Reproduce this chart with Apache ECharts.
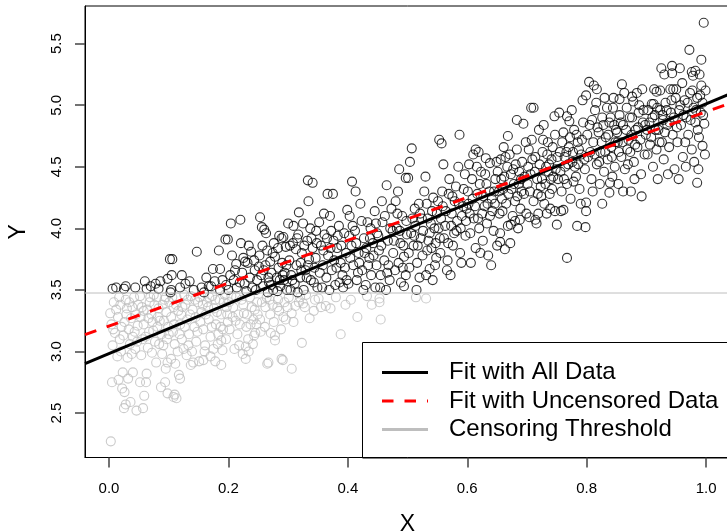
<!DOCTYPE html>
<html>
<head>
<meta charset="utf-8">
<script src="https://cdn.jsdelivr.net/npm/echarts@6/dist/echarts.min.js"></script>
<style>
  html, body { margin: 0; padding: 0; background: #fff; overflow: hidden; }
  #chart { width: 730px; height: 532px; }
</style>
</head>
<body>
<div id="chart"></div>
<script>
const points = [
  // x 0.00 - 0.05
  [0.006,3.51],[0.012,3.52],[0.025,3.51],[0.028,3.53],[0.044,3.52],
  [0.003,2.27],[0.005,2.75],[0.016,2.77],[0.023,2.83],[0.032,2.78],[0.040,2.83],[0.022,2.70],[0.026,2.67],
  [0.025,2.54],[0.028,2.57],[0.036,2.59],[0.046,2.52],
  [0.008,3.40],[0.012,3.34],[0.015,3.28],[0.004,3.22],[0.010,3.15],[0.018,3.10],[0.006,3.05],[0.020,3.00],
  [0.014,2.96],[0.028,3.42],[0.030,3.35],[0.026,3.24],[0.033,3.18],[0.035,3.06],[0.038,2.98],[0.042,3.44],
  [0.045,3.30],[0.048,3.21],[0.040,3.12],[0.044,3.02],[0.002,3.31],[0.019,3.38],[0.024,3.13],[0.037,3.27],
  [0.049,3.38],[0.031,2.95],[0.047,3.08],
  // x 0.05 - 0.10
  [0.060,3.57],[0.063,3.51],[0.078,3.55],[0.086,3.57],[0.083,3.51],[0.098,3.59],[0.070,3.53],
  [0.057,2.54],[0.059,2.64],[0.052,2.75],[0.062,2.75],[0.063,2.82],[0.079,2.91],[0.087,2.71],[0.094,2.75],
  [0.098,2.66],[0.095,2.86],[0.098,2.91],[0.089,2.98],
  [0.052,3.45],[0.055,3.36],[0.058,3.22],[0.061,3.12],[0.065,3.03],[0.068,3.40],[0.071,3.30],[0.074,3.17],
  [0.077,3.08],[0.080,3.44],[0.083,3.35],[0.085,3.25],[0.088,3.14],[0.091,3.05],[0.093,3.42],[0.096,3.32],
  [0.099,3.20],[0.054,2.97],[0.066,3.27],[0.072,2.99],[0.081,3.20],[0.090,3.38],[0.097,3.10],[0.075,3.46],
  [0.058,3.33],
  // x 0.10 - 0.15
  [0.102,3.75],[0.106,3.75],[0.105,3.62],[0.104,3.50],[0.103,3.48],[0.119,3.52],[0.122,3.62],[0.135,3.57],
  [0.147,3.81],[0.128,3.55],[0.142,3.50],
  [0.110,2.65],[0.113,2.62],[0.117,2.81],[0.111,2.90],[0.104,2.94],[0.137,2.89],[0.141,2.91],[0.130,2.97],
  [0.108,2.63],[0.119,2.78],
  [0.101,3.40],[0.104,3.28],[0.107,3.16],[0.110,3.06],[0.113,3.44],[0.116,3.33],[0.119,3.22],[0.122,3.10],
  [0.125,3.02],[0.128,3.38],[0.131,3.26],[0.134,3.14],[0.137,3.45],[0.140,3.34],[0.143,3.20],[0.146,3.08],
  [0.149,3.40],[0.108,3.36],[0.121,3.30],[0.133,3.05],[0.145,3.28],[0.126,3.46],[0.139,3.00],[0.115,3.00],
  // x 0.15 - 0.20
  [0.159,3.48],[0.174,3.67],[0.184,3.82],[0.186,3.67],[0.171,3.53],[0.177,3.57],[0.195,3.91],[0.199,3.91],
  [0.186,3.50],[0.167,3.53],[0.155,3.52],[0.190,3.58],[0.163,3.60],[0.196,3.54],
  [0.151,2.92],[0.158,2.93],[0.170,2.96],[0.178,2.92],[0.188,2.89],[0.190,3.01],[0.188,3.09],
  [0.152,3.44],[0.155,3.32],[0.158,3.18],[0.161,3.05],[0.164,3.40],[0.167,3.26],[0.170,3.12],[0.173,3.45],
  [0.176,3.35],[0.179,3.22],[0.182,3.06],[0.185,3.42],[0.188,3.30],[0.191,3.18],[0.194,3.46],[0.197,3.36],
  [0.199,3.24],[0.160,3.00],[0.175,3.02],[0.183,3.14],[0.196,3.10],[0.166,3.36],
  // x 0.20 - 0.25
  [0.204,4.04],[0.220,4.07],[0.221,3.88],[0.206,3.78],[0.211,3.66],[0.225,3.76],[0.228,3.73],[0.232,3.72],
  [0.219,3.56],[0.200,3.50],[0.227,3.55],[0.236,3.60],[0.240,3.52],[0.244,3.66],[0.248,3.58],[0.214,3.52],
  [0.230,3.49],[0.238,3.81],[0.246,3.50],[0.209,3.58],
  [0.229,2.94],[0.229,3.04],[0.224,2.98],[0.205,3.45],[0.208,3.36],[0.212,3.25],[0.215,3.14],[0.218,3.05],
  [0.222,3.42],[0.226,3.31],[0.230,3.20],[0.233,3.10],[0.236,3.44],[0.239,3.36],[0.242,3.26],[0.245,3.15],
  [0.248,3.40],[0.202,3.18],[0.217,3.30],[0.234,3.00],[0.241,3.06],[0.210,3.02],[0.247,3.22],
  // x 0.25 - 0.30
  [0.253,4.09],[0.256,4.01],[0.260,3.99],[0.263,3.96],[0.252,3.78],[0.265,3.82],[0.270,3.73],[0.285,3.94],
  [0.289,3.92],[0.292,3.93],[0.300,4.04],[0.255,3.62],[0.258,3.53],[0.262,3.70],[0.268,3.56],[0.272,3.64],
  [0.275,3.50],[0.278,3.77],[0.281,3.60],[0.284,3.68],[0.287,3.53],[0.290,3.72],[0.293,3.58],[0.296,3.85],
  [0.298,3.50],[0.276,3.88],[0.266,3.48],[0.282,3.49],[0.294,3.64],[0.259,3.66],
  [0.261,3.20],[0.253,3.26],[0.243,3.13],[0.271,3.15],[0.278,3.13],[0.288,3.18],[0.292,3.28],[0.296,3.26],
  [0.289,2.94],[0.267,2.91],[0.291,2.93],[0.278,3.09],[0.265,2.90],[0.256,3.40],[0.264,3.44],[0.274,3.38],
  [0.283,3.42],[0.299,3.36],[0.270,3.30],[0.285,3.33],
  // x 0.30 - 0.35
  [0.318,4.13],[0.334,4.22],[0.333,4.39],[0.341,4.37],[0.309,4.02],[0.302,3.74],[0.305,3.62],[0.308,3.88],
  [0.311,3.55],[0.314,3.70],[0.317,3.95],[0.320,3.60],[0.323,3.80],[0.326,3.50],[0.329,3.66],[0.332,3.90],
  [0.335,3.75],[0.338,3.58],[0.341,3.84],[0.344,3.68],[0.347,3.98],[0.349,3.52],[0.313,3.83],[0.325,4.04],
  [0.337,4.00],[0.304,3.50],[0.322,3.66],[0.346,3.76],[0.316,3.48],[0.331,3.60],
  [0.306,2.86],[0.323,3.07],[0.336,3.27],[0.312,3.37],[0.306,3.31],[0.325,3.39],[0.320,3.44],[0.345,3.42],
  [0.330,3.46],
  // x 0.35 - 0.40
  [0.366,4.28],[0.375,4.28],[0.352,4.05],[0.355,3.86],[0.358,3.70],[0.361,3.95],[0.364,3.60],[0.367,3.78],
  [0.370,4.10],[0.373,3.66],[0.376,3.90],[0.379,3.54],[0.382,3.84],[0.385,4.02],[0.388,3.72],[0.391,3.62],
  [0.394,3.96],[0.397,3.80],[0.399,4.15],[0.357,3.52],[0.369,3.50],[0.381,3.68],[0.392,3.52],[0.360,4.12],
  [0.386,3.56],[0.372,3.98],
  [0.355,3.36],[0.351,3.43],[0.363,3.37],[0.371,3.35],[0.388,3.14],[0.396,3.38],[0.380,3.44],
  // x 0.40 - 0.45
  [0.407,4.38],[0.403,4.10],[0.406,3.86],[0.409,3.70],[0.412,3.98],[0.415,3.58],[0.418,3.80],[0.421,4.20],
  [0.424,3.66],[0.427,3.92],[0.430,3.54],[0.433,4.05],[0.436,3.76],[0.439,3.62],[0.442,3.88],[0.445,4.14],
  [0.448,3.70],[0.401,3.55],[0.413,4.30],[0.426,3.50],[0.438,4.00],[0.446,3.52],[0.417,3.64],[0.431,3.84],
  [0.449,3.96],[0.404,3.76],
  [0.416,3.28],[0.405,3.42],[0.432,3.45],[0.440,3.38],
  // x 0.45 - 0.50
  [0.465,4.35],[0.484,4.30],[0.486,4.48],[0.497,4.41],[0.494,3.53],[0.464,3.50],[0.452,3.82],[0.455,3.62],
  [0.458,4.05],[0.461,3.74],[0.467,3.90],[0.470,3.58],[0.473,4.16],[0.476,3.80],[0.479,3.66],[0.482,4.00],
  [0.485,3.72],[0.488,3.88],[0.491,4.10],[0.494,3.77],[0.497,3.62],[0.499,3.95],[0.457,4.22],[0.468,3.70],
  [0.475,3.98],[0.489,3.56],[0.454,3.52],[0.480,4.22],[0.492,3.68],
  [0.453,3.43],[0.453,3.40],[0.455,3.26],
  // x 0.50 - 0.55
  [0.507,4.65],[0.504,4.54],[0.501,4.41],[0.537,3.67],[0.510,3.86],[0.513,4.02],[0.516,3.72],[0.519,4.20],
  [0.522,3.92],[0.525,3.78],[0.528,4.30],[0.531,3.62],[0.534,4.08],[0.537,3.96],[0.540,3.84],[0.543,4.25],
  [0.546,3.70],[0.549,4.12],[0.503,3.68],[0.512,4.16],[0.520,3.60],[0.530,4.42],[0.539,4.04],[0.547,3.88],
  [0.506,3.96],[0.524,4.08],[0.533,3.82],[0.542,3.58],[0.515,3.50],
  [0.514,3.44],[0.531,3.43],
  // x 0.55 - 0.60
  [0.553,4.72],[0.557,4.69],[0.587,4.76],[0.566,3.66],[0.552,4.00],[0.555,3.80],[0.558,4.30],[0.561,3.92],
  [0.564,4.14],[0.567,3.74],[0.570,4.40],[0.573,4.02],[0.576,3.86],[0.579,4.22],[0.582,3.98],[0.585,4.50],
  [0.588,3.80],[0.591,4.10],[0.594,4.32],[0.597,3.94],[0.599,4.16],[0.560,4.52],[0.568,3.88],[0.575,4.26],
  [0.583,4.06],[0.590,3.72],[0.596,4.44],[0.572,3.62],[0.556,4.08],
  // x 0.60 - 0.65
  [0.610,4.60],[0.614,4.64],[0.619,4.62],[0.631,4.57],[0.638,4.53],[0.649,4.54],[0.602,4.20],[0.605,3.96],
  [0.608,4.40],[0.611,4.08],[0.614,3.84],[0.617,4.28],[0.620,4.00],[0.623,4.46],[0.626,3.90],[0.629,4.18],
  [0.632,4.36],[0.635,3.78],[0.638,4.10],[0.641,4.24],[0.644,3.98],[0.647,4.40],[0.650,3.86],[0.606,3.72],
  [0.625,4.12],[0.640,3.70],[0.616,4.50],[0.633,4.04],[0.645,4.30],[0.603,4.52],[0.622,3.80],
  // x 0.65 - 0.70
  [0.683,4.88],[0.694,4.85],[0.668,4.75],[0.663,3.83],[0.672,3.88],[0.655,3.89],[0.655,3.96],[0.688,4.07],
  [0.680,4.06],[0.673,4.03],[0.653,4.30],[0.656,4.56],[0.659,4.14],[0.662,4.42],[0.665,4.20],[0.668,4.02],
  [0.671,4.60],[0.674,4.32],[0.677,4.48],[0.680,4.22],[0.683,4.64],[0.686,4.36],[0.689,4.16],[0.692,4.54],
  [0.695,4.28],[0.698,4.70],[0.661,4.66],[0.676,4.10],[0.690,4.40],[0.699,4.12],[0.667,4.50],[0.685,4.00],
  [0.658,4.24],
  // x 0.70 - 0.75
  [0.711,4.98],[0.707,4.98],[0.746,4.91],[0.716,4.04],[0.714,4.07],[0.704,4.09],[0.733,4.12],[0.739,4.16],
  [0.747,4.14],[0.750,4.03],[0.702,4.50],[0.705,4.30],[0.708,4.72],[0.711,4.22],[0.714,4.58],[0.717,4.40],
  [0.720,4.80],[0.723,4.34],[0.726,4.62],[0.729,4.20],[0.732,4.50],[0.735,4.70],[0.738,4.28],[0.741,4.56],
  [0.744,4.42],[0.747,4.76],[0.719,4.12],[0.728,4.84],[0.736,4.46],[0.703,4.64],[0.724,4.26],[0.742,4.32],
  // x 0.75 - 0.80
  [0.767,4.91],[0.771,4.87],[0.793,5.04],[0.799,5.08],[0.767,3.76],[0.784,4.02],[0.798,4.01],[0.799,4.21],
  [0.799,4.14],[0.761,4.15],[0.757,4.14],[0.752,4.40],[0.755,4.62],[0.758,4.30],[0.761,4.78],[0.764,4.50],
  [0.767,4.36],[0.770,4.66],[0.773,4.24],[0.776,4.54],[0.779,4.80],[0.782,4.42],[0.785,4.70],[0.788,4.32],
  [0.791,4.60],[0.794,4.86],[0.797,4.48],[0.754,4.94],[0.775,4.96],[0.790,4.20],[0.778,4.38],[0.763,4.58],
  [0.786,4.52],
  // x 0.80 - 0.85
  [0.804,5.19],[0.812,5.16],[0.817,5.13],[0.830,5.06],[0.845,5.06],[0.822,4.36],[0.839,4.37],[0.838,4.29],
  [0.802,4.58],[0.805,4.84],[0.808,4.40],[0.811,4.70],[0.814,4.96],[0.817,4.52],[0.820,4.78],[0.823,4.62],
  [0.826,4.90],[0.829,4.46],[0.832,4.74],[0.835,4.56],[0.838,4.86],[0.841,4.66],[0.844,4.98],[0.847,4.50],
  [0.849,4.80],[0.810,4.30],[0.826,4.20],[0.834,4.98],[0.843,4.42],[0.816,5.02],[0.848,4.70],
  // x 0.85 - 0.90
  [0.859,5.17],[0.893,5.13],[0.855,5.05],[0.876,5.07],[0.878,5.03],[0.874,4.30],[0.861,4.30],[0.853,4.36],
  [0.892,4.26],[0.852,4.70],[0.855,4.92],[0.858,4.58],[0.861,4.84],[0.864,4.48],[0.867,4.98],[0.870,4.72],
  [0.873,4.62],[0.876,4.90],[0.879,4.54],[0.882,4.80],[0.885,4.66],[0.888,5.00],[0.891,4.44],[0.894,4.86],
  [0.897,4.60],[0.899,4.76],[0.863,5.10],[0.880,4.40],[0.887,4.94],[0.869,4.52],[0.884,5.10],
  // x 0.90 - 0.95
  [0.925,5.30],[0.930,5.25],[0.943,5.32],[0.943,5.26],[0.913,5.13],[0.917,5.11],[0.923,5.12],[0.940,5.13],
  [0.945,5.13],[0.909,5.01],[0.912,5.01],[0.902,4.60],[0.905,4.86],[0.908,4.74],[0.911,4.50],[0.914,4.92],
  [0.917,4.64],[0.920,4.80],[0.923,4.96],[0.926,4.70],[0.929,4.56],[0.932,5.02],[0.935,4.84],[0.938,4.66],
  [0.941,4.94],[0.944,4.76],[0.947,4.48],[0.949,5.06],[0.919,4.40],[0.936,4.44],[0.903,4.96],[0.928,4.88],
  // x 0.95 - 1.00
  [0.996,5.67],[0.972,5.45],[0.992,5.37],[0.956,5.30],[0.976,5.27],[0.978,5.24],[0.982,5.28],[0.989,5.25],
  [0.950,5.13],[0.992,5.16],[0.997,4.85],[0.994,4.67],[0.987,4.48],[0.954,4.40],[0.985,4.37],[0.952,4.70],
  [0.955,4.96],[0.958,4.84],[0.961,4.58],[0.964,5.04],[0.967,4.90],[0.970,4.76],[0.973,5.10],[0.976,4.64],
  [0.979,4.98],[0.982,4.86],[0.985,5.06],[0.988,4.74],[0.991,4.94],[0.994,5.02],[0.998,4.60],[0.960,5.18],
  [0.966,4.50],[0.980,4.54],[0.999,5.12]
]

// more points from the dense core of the cloud
const corePoints = [
  [0.203,3.62],[0.213,3.71],[0.223,3.64],[0.234,3.86],[0.243,3.74],[0.251,3.69],[0.257,3.86],[0.267,3.60],
  [0.274,3.80],[0.283,3.84],[0.291,3.62],[0.297,3.70],[0.286,3.58],[0.271,3.54],
  [0.303,3.86],[0.307,3.58],[0.315,3.92],[0.321,3.72],[0.327,3.86],[0.333,3.70],[0.339,3.92],[0.343,3.56],
  [0.348,3.88],[0.353,3.64],[0.359,3.82],[0.365,3.92],[0.371,3.84],[0.377,3.74],[0.383,3.94],[0.389,3.86],
  [0.395,3.68],[0.398,3.58],
  [0.402,3.94],[0.408,4.02],[0.414,3.88],[0.419,3.72],[0.423,4.06],[0.428,3.80],[0.434,3.70],[0.437,3.92],
  [0.443,3.78],[0.447,4.04],[0.451,3.94],[0.456,3.86],[0.462,4.10],[0.466,3.64],[0.471,4.00],[0.477,3.90],
  [0.483,4.12],[0.487,3.98],[0.493,3.86],[0.498,4.06],
  [0.502,3.80],[0.508,4.08],[0.511,3.94],[0.517,3.86],[0.521,4.12],[0.526,3.98],[0.532,4.20],[0.535,3.90],
  [0.541,4.14],[0.545,4.00],[0.548,3.76],[0.551,4.22],[0.554,3.92],[0.559,4.18],[0.563,4.02],[0.569,4.28],
  [0.574,4.12],[0.578,3.96],[0.581,4.34],[0.586,4.20],[0.589,4.00],[0.593,4.18],[0.598,4.06],
  [0.601,4.30],[0.604,4.12],[0.609,4.24],[0.613,4.18],[0.618,4.08],[0.621,4.36],[0.627,4.26],[0.630,4.44],
  [0.634,4.20],[0.637,4.30],[0.642,4.14],[0.646,4.20],[0.651,4.46],[0.654,4.12],[0.657,4.40],[0.660,4.32],
  [0.664,4.58],[0.669,4.28],[0.673,4.44],[0.678,4.36],[0.681,4.52],[0.684,4.26],[0.687,4.46],[0.691,4.30],
  [0.696,4.42],
  [0.701,4.36],[0.706,4.44],[0.709,4.56],[0.713,4.46],[0.718,4.28],[0.721,4.52],[0.725,4.40],[0.727,4.72],
  [0.731,4.36],[0.734,4.60],[0.737,4.52],[0.740,4.40],[0.743,4.66],[0.748,4.48],[0.751,4.58],[0.756,4.46],
  [0.759,4.70],[0.762,4.40],[0.766,4.62],[0.769,4.52],[0.772,4.74],[0.777,4.62],[0.780,4.50],[0.783,4.76],
  [0.787,4.64],[0.792,4.72],[0.796,4.56],
  [0.801,4.76],[0.806,4.62],[0.809,4.88],[0.813,4.60],[0.818,4.82],[0.821,4.54],[0.825,4.70],[0.828,4.84],
  [0.831,4.62],[0.836,4.76],[0.840,4.90],[0.842,4.58],[0.846,4.84],[0.851,4.78],[0.854,4.62],[0.857,4.86],
  [0.860,4.70],[0.866,4.80],[0.868,4.64],[0.872,4.90],[0.875,4.76],[0.881,4.68],[0.886,4.82],[0.890,4.72],
  [0.895,4.96],[0.898,4.84],
  [0.901,4.80],[0.906,4.68],[0.910,4.90],[0.915,4.80],[0.918,4.98],[0.922,4.70],[0.927,4.92],[0.931,4.78],
  [0.934,4.96],[0.939,4.86],[0.942,5.04],[0.946,4.90],[0.951,4.82],[0.957,5.00],[0.962,4.92],[0.965,4.70],
  [0.969,5.02],[0.974,4.88],[0.977,5.12],[0.983,4.96],[0.986,4.80],[0.990,5.08],[0.995,4.92],
  [0.007,3.18],[0.017,3.44],[0.021,3.20],[0.029,3.30],[0.034,3.40],[0.039,3.36],[0.043,3.16],[0.053,3.28],
  [0.056,3.10],[0.064,3.34],[0.067,3.16],[0.069,3.44],[0.073,3.24],[0.076,3.38],[0.082,3.28],[0.084,3.06],
  [0.092,3.25],[0.095,3.44],[0.100,3.14],[0.106,3.44],[0.109,3.22],[0.112,3.38],[0.118,3.14],[0.123,3.36],
  [0.127,3.20],[0.132,3.42],[0.136,3.30],[0.144,3.42],[0.148,3.16],[0.153,3.24],[0.157,3.38],[0.162,3.30],
  [0.168,3.44],[0.172,3.20],[0.178,3.42],[0.181,3.32],[0.187,3.20],[0.192,3.40],[0.198,3.30],[0.201,3.40],
  [0.207,3.28],[0.213,3.44],[0.219,3.22],[0.225,3.38],[0.231,3.30],[0.237,3.22],[0.244,3.34],[0.249,3.30],
  [0.254,3.16],[0.262,3.36],[0.269,3.42],[0.276,3.24],[0.282,3.36],[0.294,3.40],[0.301,3.44],[0.309,3.24],
  [0.318,3.40],[0.328,3.36],[0.343,3.33]
]

// fitted lines: [intercept, slope]
const fitAll = [2.983, 2.029]
const fitUncensored = [3.207, 1.740]
const threshold = 3.475

const xTicks = [0, 0.2, 0.4, 0.6, 0.8, 1.0]
const yTicks = [2.5, 3.0, 3.5, 4.0, 4.5, 5.0, 5.5]
const xRange = [-0.0402, 1.04]
const yRange = [2.139, 5.806]

const legendLabels = ['Fit with All Data', 'Fit with Uncensored Data', 'Censoring Threshold']

const allPoints = points.concat(corePoints)
const uncensored = allPoints.filter(p => p[1] >= threshold)
const censored = allPoints.filter(p => p[1] < threshold)

const lineData = (coef) => xRange.map(x => [x, coef[0] + coef[1] * x])

const font = 'Liberation Sans, Arial, sans-serif'
const tickStyle = { color: '#444', width: 1.5 }
const chart = echarts.init(document.getElementById('chart'), null, { renderer: 'canvas' })

const option = {
  animation: false,
  grid: {
    left: 85, right: 0, top: 6, height: 451.5,
    outerBoundsMode: 'none', containLabel: false,
    show: true, borderColor: '#000', borderWidth: 1, backgroundColor: 'transparent'
  },
  xAxis: {
    type: 'value', min: xRange[0], max: xRange[1],
    name: 'X', nameLocation: 'middle', nameGap: 56,
    nameTextStyle: { fontFamily: font, fontSize: 23, color: '#000' },
    axisLine: { show: true, onZero: false, lineStyle: { color: '#000', width: 1 } },
    splitLine: { show: false },
    axisTick: { show: true, length: 10, customValues: xTicks, lineStyle: tickStyle },
    axisLabel: {
      customValues: xTicks, margin: 24, fontFamily: font, fontSize: 15, color: '#000',
      formatter: v => v.toFixed(1)
    }
  },
  yAxis: {
    type: 'value', min: yRange[0], max: yRange[1],
    name: 'Y', nameLocation: 'middle', nameGap: 55,
    nameTextStyle: { fontFamily: font, fontSize: 23, color: '#000' },
    axisLine: { show: true, onZero: false, lineStyle: { color: '#000', width: 1 } },
    splitLine: { show: false },
    axisTick: { show: true, length: 10, customValues: yTicks, lineStyle: tickStyle },
    axisLabel: {
      customValues: yTicks, rotate: 90, margin: 21, fontFamily: font, fontSize: 15, color: '#000',
      formatter: v => v.toFixed(1)
    }
  },
  series: [
    {
      type: 'scatter', data: censored, symbol: 'circle', symbolSize: 9,
      itemStyle: { color: 'rgba(0,0,0,0)', borderColor: '#bebebe', borderWidth: 1.1 },
      silent: true
    },
    {
      type: 'scatter', data: uncensored, symbol: 'circle', symbolSize: 9,
      itemStyle: { color: 'rgba(0,0,0,0)', borderColor: '#000', borderWidth: 1.1 },
      silent: true
    },
    {
      type: 'line', data: lineData([threshold, 0]), symbol: 'none',
      lineStyle: { color: '#bebebe', width: 1 }, silent: true
    },
    {
      type: 'line', data: lineData(fitAll), symbol: 'none',
      lineStyle: { color: '#000', width: 3 }, silent: true
    },
    {
      type: 'line', data: lineData(fitUncensored), symbol: 'none',
      lineStyle: { color: '#ff0000', width: 3, type: [12, 11] }, silent: true
    }
  ],
  // legend box drawn like R's legend()
  graphic: [
    { type: 'rect', left: 362, top: 342, shape: { width: 380, height: 115.5 }, style: { fill: '#fff', stroke: '#000', lineWidth: 1 } },
    { type: 'line', shape: { x1: 382, y1: 372.5, x2: 428, y2: 372.5 }, style: { stroke: '#000', lineWidth: 3 } },
    { type: 'line', shape: { x1: 382, y1: 401, x2: 428, y2: 401 }, style: { stroke: '#ff0000', lineWidth: 3, lineDash: [11.5, 11] } },
    { type: 'line', shape: { x1: 382, y1: 429.5, x2: 428, y2: 429.5 }, style: { stroke: '#bebebe', lineWidth: 3 } },
    { type: 'text', x: 449, y: 372.5, style: { text: legendLabels[0], font: '24px ' + font, fill: '#000', verticalAlign: 'middle' } },
    { type: 'text', x: 449, y: 401, style: { text: legendLabels[1], font: '24px ' + font, fill: '#000', verticalAlign: 'middle' } },
    { type: 'text', x: 449, y: 429.5, style: { text: legendLabels[2], font: '24px ' + font, fill: '#000', verticalAlign: 'middle' } }
  ]
}

chart.setOption(option)
</script>
</body>
</html>
